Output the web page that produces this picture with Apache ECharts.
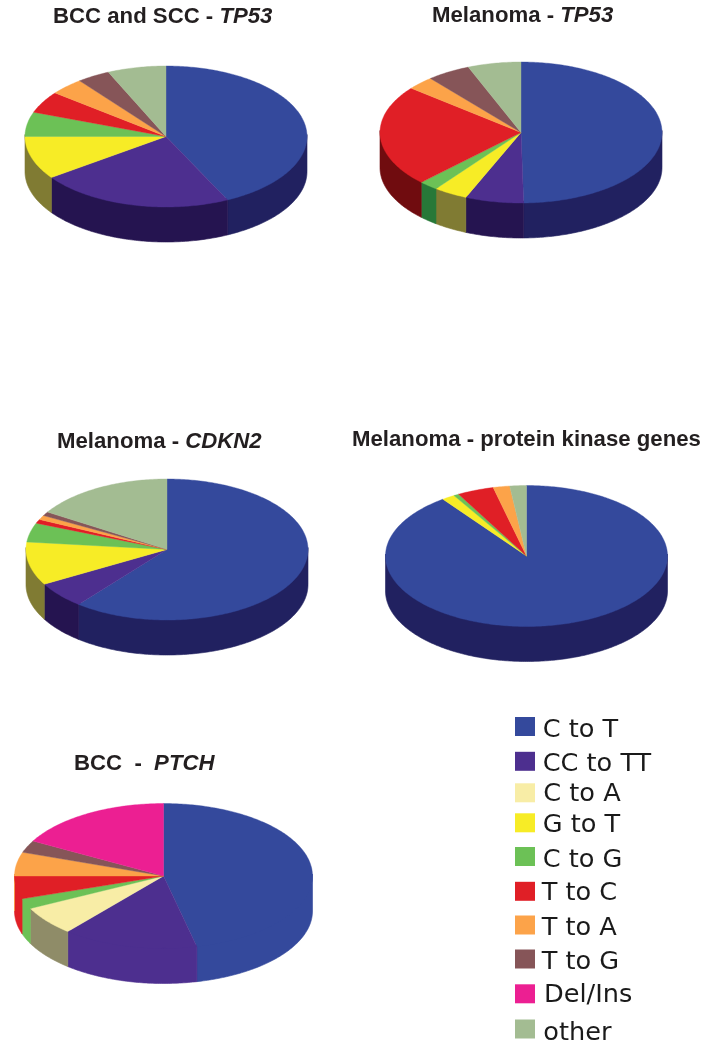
<!DOCTYPE html>
<html>
<head>
<meta charset="utf-8">
<title>Mutation spectra</title>
<script src="https://cdn.jsdelivr.net/npm/echarts@6/dist/echarts.min.js"></script>
<style>
  html, body { margin: 0; padding: 0; background: #fff; }
  #main { width: 723px; height: 1050px; }
</style>
</head>
<body>
<div id="main"></div>
<script>
// percent of mutations per class, one value per pie (same order as pieTitles)
const pieTitles = [
  ['BCC and SCC - ', 'TP53'],
  ['Melanoma - ', 'TP53'],
  ['Melanoma - ', 'CDKN2'],
  ['Melanoma - protein kinase genes', ''],
  ['BCC  -  ', 'PTCH']
];
const classNames = ['C to T', 'CC to TT', 'C to A', 'G to T', 'C to G', 'T to C', 'T to A', 'T to G', 'Del/Ins', 'other'];
const cToT   = [42.8, 49.7, 60.8, 89.9, 46.4];
const ccToTt = [22.3, 6.7, 6.0, 0, 14.7];
const cToA   = [0, 0, 0, 0, 6.5];
const gToT   = [9.9, 3.9, 9.9, 1.5, 0];
const cToG   = [5.6, 2.2, 4.4, 0.6, 2.3];
const tToC   = [5.0, 23.3, 0.9, 4.2, 5.1];
const tToA   = [3.9, 3.1, 1.0, 1.9, 5.3];
const tToG   = [3.8, 5.0, 0.9, 0, 2.7];
const delIns = [0, 0, 0, 0, 17.0];
const other  = [6.7, 6.1, 16.1, 1.9, 0];
const classValues = [cToT, ccToTt, cToA, gToT, cToG, tToC, tToA, tToG, delIns, other];

const topColors  = ['#34499c', '#4d2f8f', '#f8eda6', '#f7ec26', '#6cc156', '#e01f26', '#fca349', '#865558', '#ec1f92', '#a3bc92'];
const sideColors = ['#212160', '#251450', '#8f8c68', '#807b33', '#277838', '#700c0f', '#7f5225', '#43292b', '#760f49', '#515e49'];

// pie geometry on the page
const pieBoxes = [
  { cx: 166, cy: 136.5, rx: 141, ry: 70.5, depth: 35 },
  { cx: 521, cy: 132.5, rx: 141, ry: 70.5, depth: 35 },
  { cx: 167, cy: 549.5, rx: 141, ry: 70.5, depth: 35 },
  { cx: 526.5, cy: 556, rx: 141, ry: 70.5, depth: 35 },
  { cx: 163.5, cy: 876, rx: 149, ry: 72.5, depth: 35, flat: true }
];
const titleSpots = [[53, 16.5], [432, 16], [57, 442], [352, 440], [74, 764]];
const legendRows = [726.5, 761, 792.5, 822.5, 856.5, 891, 925, 959, 993.5, 1029];
const legendGaps = [2.7, 2.7, 3.3, 2.7, 2.7, 1.7, 1.7, 1.7, 4, 3.3];
const legendDrops = [4, 3.2, 2, 2.7, 3.7, 2.5, 3.5, 3.5, 2, 4.5];

function rimPoint(box, t, drop) {
  return [box.cx + box.rx * Math.sin(t), box.cy - box.ry * Math.cos(t) + drop];
}

function arcPoints(box, from, to, drop) {
  let steps = Math.max(2, Math.ceil((to - from) / 0.015));
  let pts = [];
  for (let i = 0; i <= steps; i++) {
    pts.push(rimPoint(box, from + (to - from) * i / steps, drop));
  }
  return pts;
}

function sliceRenderer(classIdx) {
  return function (params, api) {
    let pie = params.dataIndex;
    let value = api.value(0);
    if (!value) return null;
    let box = pieBoxes[pie];
    let before = 0;
    for (let c = 0; c < classIdx; c++) before += classValues[c][pie];
    let from = before / 100 * Math.PI * 2;
    let to = (before + value) / 100 * Math.PI * 2;
    let color = topColors[classIdx];
    let children = [];

    // the wall only shows on the front half of the rim
    let wallFrom = Math.max(from, Math.PI / 2);
    let wallTo = Math.min(to, Math.PI * 1.5);
    if (wallTo > wallFrom) {
      // PTCH pie has unshaded walls except for the C to A slice
      let wallColor = box.flat && classNames[classIdx] !== 'C to A' ? color : sideColors[classIdx];
      // start the wall a little above the rim, the top surface covers it
      let upper = arcPoints(box, wallFrom, wallTo, -2);
      let lower = arcPoints(box, wallFrom, wallTo, box.depth).reverse();
      children.push({
        type: 'polygon',
        z2: 0,
        shape: { points: upper.concat(lower) },
        style: { fill: wallColor, stroke: wallColor, lineWidth: 0.6 }
      });
    }

    children.push({
      type: 'polygon',
      z2: 5,
      shape: { points: [[box.cx, box.cy]].concat(arcPoints(box, from, to, 0)) },
      style: { fill: color, stroke: color, lineWidth: 0.4 }
    });
    return { type: 'group', children: children };
  };
}

let myChart = echarts.init(document.getElementById('main'), null, { renderer: 'canvas' });
let option = {
  animation: false,
  backgroundColor: '#ffffff',
  title: pieTitles.map((t, i) => ({
    text: '{a|' + t[0] + '}' + (t[1] ? '{b|' + t[1] + '}' : ''),
    left: titleSpots[i][0],
    top: titleSpots[i][1] - 13,
    padding: 0,
    textStyle: {
      rich: {
        a: { fontFamily: '"Liberation Sans", Arial', fontSize: 22.2, fontWeight: 'bold', color: '#231f20', lineHeight: 26 },
        b: { fontFamily: '"Liberation Sans", Arial', fontSize: 22.2, fontWeight: 'bold', fontStyle: 'italic', color: '#231f20', lineHeight: 26 }
      }
    }
  })),
  legend: classNames.map((name, i) => ({
    data: [name],
    orient: 'vertical',
    left: 515,
    // the text box pokes above the icon until it is pushed down far enough
    top: legendRows[i] - Math.max(9.5, 12.7 - legendDrops[i]),
    padding: 0,
    icon: 'rect',
    itemWidth: 20,
    itemHeight: 19,
    selectedMode: false,
    formatter: '{t|{name}}',
    textStyle: {
      rich: {
        t: {
          fontFamily: '"DejaVu Sans", Verdana',
          fontSize: 25.6,
          color: '#1a1a1a',
          padding: [legendDrops[i] * 2, 0, 0, legendGaps[i]]
        }
      }
    }
  })),
  series: classNames.map((name, i) => ({
    type: 'custom',
    name: name,
    coordinateSystem: 'none',
    silent: true,
    itemStyle: { color: topColors[i] },
    renderItem: sliceRenderer(i),
    data: classValues[i]
  }))
};
myChart.setOption(option);
</script>
</body>
</html>
